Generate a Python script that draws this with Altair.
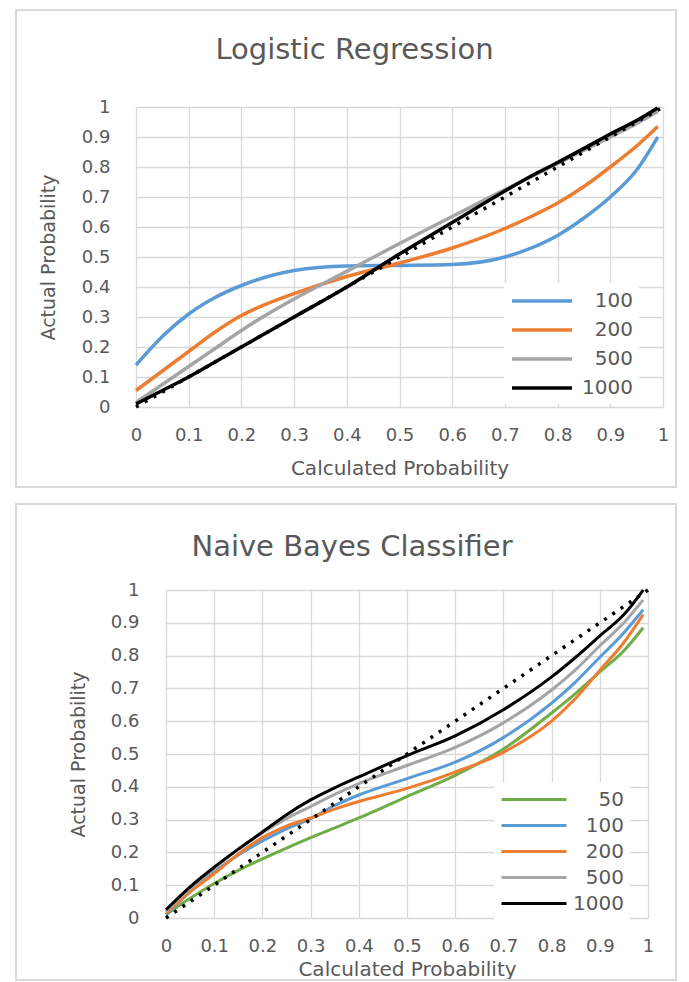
import altair as alt
import pandas as pd

FONT = "DejaVu Sans"
TXT = "#595959"
GRID = "#D9D9D9"

ticks = [0, 0.1, 0.2, 0.3, 0.4, 0.5, 0.6, 0.7, 0.8, 0.9, 1]

# ---- Logistic Regression ----
lr_names = ["100", "200", "500", "1000"]
lr_colors = ["#5B9BD5", "#ED7D31", "#A5A5A5", "#000000"]
lr_x = [0, 0.05, 0.1, 0.15, 0.2, 0.25, 0.3, 0.4, 0.5, 0.6, 0.7, 0.75, 0.8, 0.85, 0.9, 0.95, 0.99]
lr_100 = [0.14, 0.235, 0.31, 0.365, 0.405, 0.435, 0.455, 0.47, 0.472, 0.475, 0.5, 0.53, 0.572, 0.63, 0.7, 0.79, 0.9]
lr_200 = [0.055, 0.12, 0.185, 0.25, 0.305, 0.345, 0.378, 0.435, 0.48, 0.53, 0.595, 0.635, 0.68, 0.735, 0.8, 0.87, 0.935]
lr_500 = [0.015, 0.075, 0.135, 0.195, 0.255, 0.31, 0.36, 0.452, 0.545, 0.635, 0.725, 0.768, 0.812, 0.856, 0.9, 0.945, 0.985]
lr_1000 = [0.01, 0.055, 0.1, 0.15, 0.2, 0.25, 0.3, 0.4, 0.51, 0.615, 0.72, 0.77, 0.815, 0.862, 0.91, 0.955, 0.997]

# ---- Naive Bayes ----
nb_names = ["50", "100", "200", "500", "1000"]
nb_colors = ["#70AD47", "#5B9BD5", "#ED7D31", "#A5A5A5", "#000000"]
nb_x = [0, 0.05, 0.1, 0.15, 0.2, 0.25, 0.3, 0.35, 0.4, 0.5, 0.6, 0.7, 0.8, 0.85, 0.9, 0.95, 0.99]
nb_50 = [0.01, 0.06, 0.105, 0.145, 0.18, 0.213, 0.245, 0.275, 0.305, 0.37, 0.435, 0.515, 0.625, 0.685, 0.75, 0.815, 0.885]
nb_100 = [0.01, 0.08, 0.14, 0.192, 0.235, 0.272, 0.303, 0.343, 0.375, 0.425, 0.475, 0.55, 0.655, 0.72, 0.795, 0.87, 0.94]
nb_200 = [0.015, 0.08, 0.135, 0.195, 0.245, 0.28, 0.305, 0.332, 0.355, 0.395, 0.445, 0.505, 0.6, 0.67, 0.755, 0.84, 0.925]
nb_500 = [0.02, 0.09, 0.15, 0.21, 0.26, 0.303, 0.34, 0.377, 0.41, 0.465, 0.52, 0.595, 0.695, 0.757, 0.83, 0.9, 0.97]
nb_1000 = [0.025, 0.095, 0.155, 0.21, 0.262, 0.315, 0.36, 0.397, 0.43, 0.495, 0.555, 0.635, 0.735, 0.795, 0.86, 0.925, 1.0]

diag_x = [0, 1]
diag_y = [0, 1]


def long_df(xs, names, series):
    rows = []
    for name, ys in zip(names, series):
        for xv, yv in zip(xs, ys):
            rows.append({"x": xv, "y": yv, "series": name})
    return pd.DataFrame(rows)


def panel(df, names, colors, w, h, frame, title, title_offset, title_dx,
          legend_x, legend_y, sym_path, label_off, row_pad, lab_pad_y, lab_pad_x,
          ytitle_x, xtitle_y, line_w):
    xenc = alt.X("x:Q", scale=alt.Scale(domain=[0, 1], nice=False),
                 axis=alt.Axis(values=ticks, format="~g", title="Calculated Probability",
                               titleX=w / 2, titleY=xtitle_y, titleAlign="center",
                               titleBaseline="middle", labelPadding=lab_pad_x,
                               labelBaseline="middle"))
    yenc = alt.Y("y:Q", scale=alt.Scale(domain=[0, 1], nice=False),
                 axis=alt.Axis(values=ticks, format="~g", title="Actual Probability",
                               titleX=ytitle_x, titleY=h / 2, titleAlign="center",
                               titleBaseline="middle", labelPadding=lab_pad_y))
    border = alt.Chart(pd.DataFrame({"k": [0]})).mark_rect(
        fill="white", fillOpacity=0, stroke=GRID, strokeWidth=2
    ).encode(
        x=alt.value(frame[0]), x2=alt.value(frame[1]),
        y=alt.value(frame[2]), y2=alt.value(frame[3]),
    )
    lines = alt.Chart(df).mark_line(interpolate="monotone").encode(
        x=xenc,
        y=yenc,
        color=alt.Color(
            "series:N",
            sort=names,
            scale=alt.Scale(domain=names, range=colors),
            legend=alt.Legend(
                title=None, orient="none", legendX=legend_x, legendY=legend_y,
                fillColor="white", padding=6, symbolType=sym_path,
                symbolSize=400, symbolStrokeWidth=4,
                labelFontSize=20, labelFont=FONT, labelColor=TXT,
                labelAlign="right", labelOffset=label_off, rowPadding=row_pad,
            ),
        ),
        strokeWidth=alt.StrokeWidth("series:N", scale=alt.Scale(domain=names, range=line_w),
                                    legend=None),
        order=alt.Order("x:Q"),
    )
    diag = alt.Chart(pd.DataFrame({"x": diag_x, "y": diag_y})).mark_line(
        color="black", strokeWidth=3.5, strokeDash=[3, 7]
    ).encode(x=xenc, y=yenc)
    return alt.layer(border, lines, diag).properties(
        width=w, height=h,
        title=alt.TitleParams(
            title, fontSize=29, font=FONT, color=TXT, fontWeight="normal",
            anchor="middle", baseline="alphabetic", offset=title_offset, dx=title_dx,
        ),
    )


def spacer():
    return alt.Chart(pd.DataFrame({"k": [0]})).mark_point(size=0, opacity=0).properties(
        width=1, height=1)


lr_df = long_df(lr_x, lr_names, [lr_100, lr_200, lr_500, lr_1000])
nb_df = long_df(nb_x, nb_names, [nb_50, nb_100, nb_200, nb_500, nb_1000])

top = panel(lr_df, lr_names, lr_colors, 527, 300, (-120, 540, -97, 380),
            "Logistic Regression", -79, -45,
            490, 176, "M-1,0H5", 99, 7, 26, 28, -88, 61, [3.5, 3.5, 3.5, 4])
bottom = panel(nb_df, nb_names, nb_colors, 482, 328, (-150, 510, -86, 390),
               "Naive Bayes Classifier", -82, -55,
               480, 192, "M-1,0H5.5", 101, 4, 27, 28, -88, 51, [3, 3, 3, 3, 2.6])

row1 = alt.hconcat(spacer(), top, spacing=0)
row2 = alt.hconcat(spacer(), bottom, spacing=0)

chart = alt.vconcat(row1, row2, spacing=15).resolve_scale(
    color="independent", strokeWidth="independent"
).resolve_legend(color="independent").properties(
    padding={"left": 14, "top": 9, "right": 5, "bottom": 0}
).configure_view(stroke=None).configure_axis(
    grid=True, gridColor=GRID, gridWidth=1.3, domain=False, ticks=False, tickSize=0,
    labelFont=FONT, labelFontSize=18, labelColor=TXT, labelFlush=False,
    labelOverlap=False, titleFont=FONT, titleFontSize=20, titleColor=TXT,
    titleFontWeight="normal",
).configure_axisY(titleFontSize=19)

chart.save("out.html", embed_options={"renderer": "svg", "actions": False})
